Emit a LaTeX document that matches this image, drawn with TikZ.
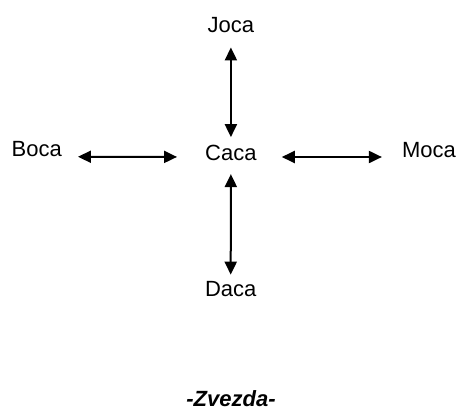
\documentclass[tikz,border=0pt]{standalone}
\usepackage{fontspec}
\setmainfont{Liberation Sans}
\usetikzlibrary{arrows.meta}
\begin{document}
\begin{tikzpicture}[x=1pt,y=-1pt,
  word/.style={inner sep=0pt,anchor=base,font=\fontsize{22}{26}\selectfont},
  biarrow/.style={line width=2pt,{Triangle[length=13pt,width=12pt]}-{Triangle[length=13pt,width=12pt]}}]
  \useasboundingbox (0,0) rectangle (459,410);
  % the five words of the star
  \node[word] (joca) at (230.9,32) {Joca};
  \node[word] (caca) at (230.9,160.7) {Caca};
  \node[word] (boca) at (36.7,156.7) {Boca};
  \node[word] (moca) at (429,157) {Moca};
  \node[word] (daca) at (230.7,296) {Daca};
  % caption
  \node[inner sep=0pt,anchor=base,font=\fontsize{22}{26}\selectfont\bfseries\itshape] (title) at (231,406.5) {-Zvezda-};
  % double arrows from the centre outwards
  \draw[biarrow,shorten <=15pt,shorten >=8pt] (joca.south) -- (caca.north);
  \draw[biarrow,shorten <=13pt,shorten >=6pt] (caca.south) -- (daca.north);
  \draw[biarrow,shorten <=16pt,shorten >=28pt] (boca.base east) -- ([yshift=3.7pt]caca.base west);
  \draw[biarrow,shorten <=25pt,shorten >=20pt] ([yshift=3.7pt]caca.base east) -- (moca.base west);
\end{tikzpicture}
\end{document}
